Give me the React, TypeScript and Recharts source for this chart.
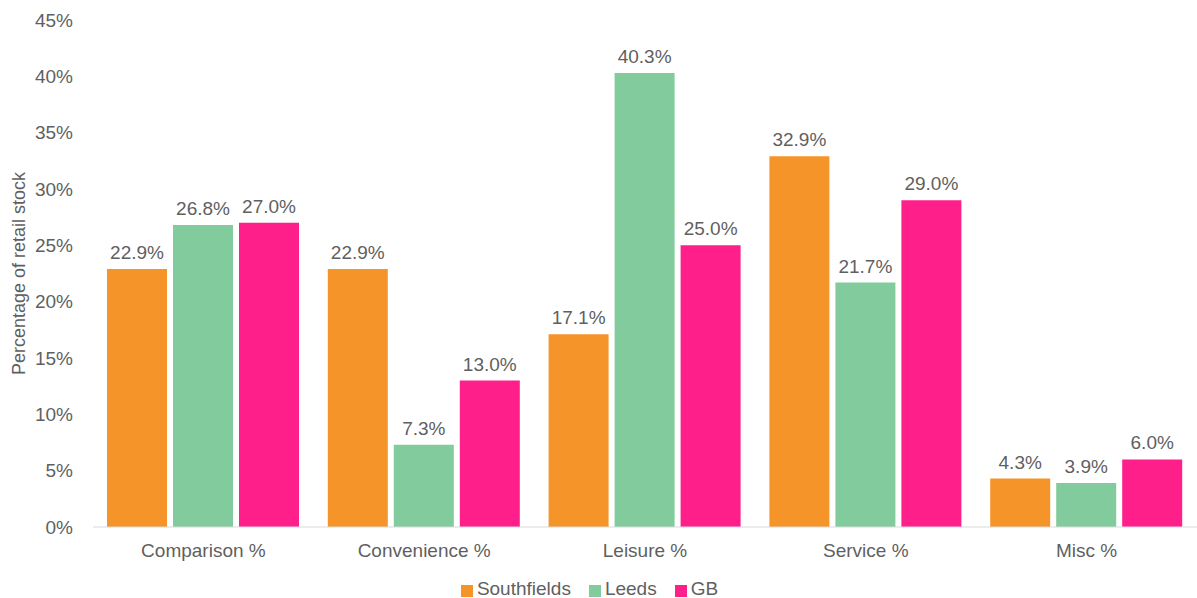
import React from 'react';
import { BarChart, Bar, XAxis, YAxis, Legend, LabelList } from 'recharts';

const categories = ['Comparison %', 'Convenience %', 'Leisure %', 'Service %', 'Misc %'];
const southfields = [22.9, 22.9, 17.1, 32.9, 4.3];
const leeds = [26.8, 7.3, 40.3, 21.7, 3.9];
const gb = [27.0, 13.0, 25.0, 29.0, 6.0];
const yTicks = [0, 5, 10, 15, 20, 25, 30, 35, 40, 45];
const seriesOrder = ['Southfields', 'Leeds', 'GB'];

const data = categories.map((c, i) => ({
  name: c,
  Southfields: southfields[i],
  Leeds: leeds[i],
  GB: gb[i],
}));

const FONT = '"Liberation Sans", Arial, Helvetica, sans-serif';
const TEXT = '#5f5f5f';
const FS = 19;

const fmt = (v: number) => `${Number(v).toFixed(1)}%`;

export default function App() {
  return (
    <div style={{ position: 'absolute', left: 0, top: 0, width: 1197, height: 598, background: '#fff', fontFamily: FONT }}>
      <BarChart
        width={1197}
        height={598}
        data={data}
        margin={{ top: 20, right: 0, left: 0, bottom: 0 }}
        barCategoryGap={14}
        barGap={6}
      >
        <XAxis
          dataKey="name"
          axisLine={{ stroke: '#D9D9D9' }}
          tickLine={false}
          tickSize={0}
          tickMargin={17}
          height={51}
          tick={{ fill: TEXT, fontSize: FS, fontFamily: FONT }}
        />
        <YAxis
          domain={[0, 45]}
          ticks={yTicks}
          interval={0}
          width={93}
          axisLine={false}
          tickLine={false}
          tickSize={0}
          tickMargin={20}
          tickFormatter={(v: number) => `${v}%`}
          tick={{ fill: TEXT, fontSize: FS, fontFamily: FONT }}
          label={{
            value: 'Percentage of retail stock',
            angle: -90,
            position: 'insideLeft',
            offset: 19,
            style: { textAnchor: 'middle', fill: TEXT, fontSize: 18, fontFamily: FONT },
          }}
        />
        <Legend
          verticalAlign="bottom"
          height={20}
          iconType="square"
          iconSize={12}
          itemSorter={(item: any) => seriesOrder.indexOf(item.value)}
          formatter={(value: string) => (
            <span style={{ color: TEXT, fontSize: FS, fontFamily: FONT, marginRight: 8 }}>{value}</span>
          )}
        />
        <Bar dataKey="Southfields" fill="#F59428" isAnimationActive={false}>
          <LabelList dataKey="Southfields" position="top" offset={10} formatter={fmt} style={{ fill: TEXT, fontSize: FS, fontFamily: FONT }} />
        </Bar>
        <Bar dataKey="Leeds" fill="#82CB9D" isAnimationActive={false}>
          <LabelList dataKey="Leeds" position="top" offset={10} formatter={fmt} style={{ fill: TEXT, fontSize: FS, fontFamily: FONT }} />
        </Bar>
        <Bar dataKey="GB" fill="#FF1F8B" isAnimationActive={false}>
          <LabelList dataKey="GB" position="top" offset={10} formatter={fmt} style={{ fill: TEXT, fontSize: FS, fontFamily: FONT }} />
        </Bar>
      </BarChart>
    </div>
  );
}
